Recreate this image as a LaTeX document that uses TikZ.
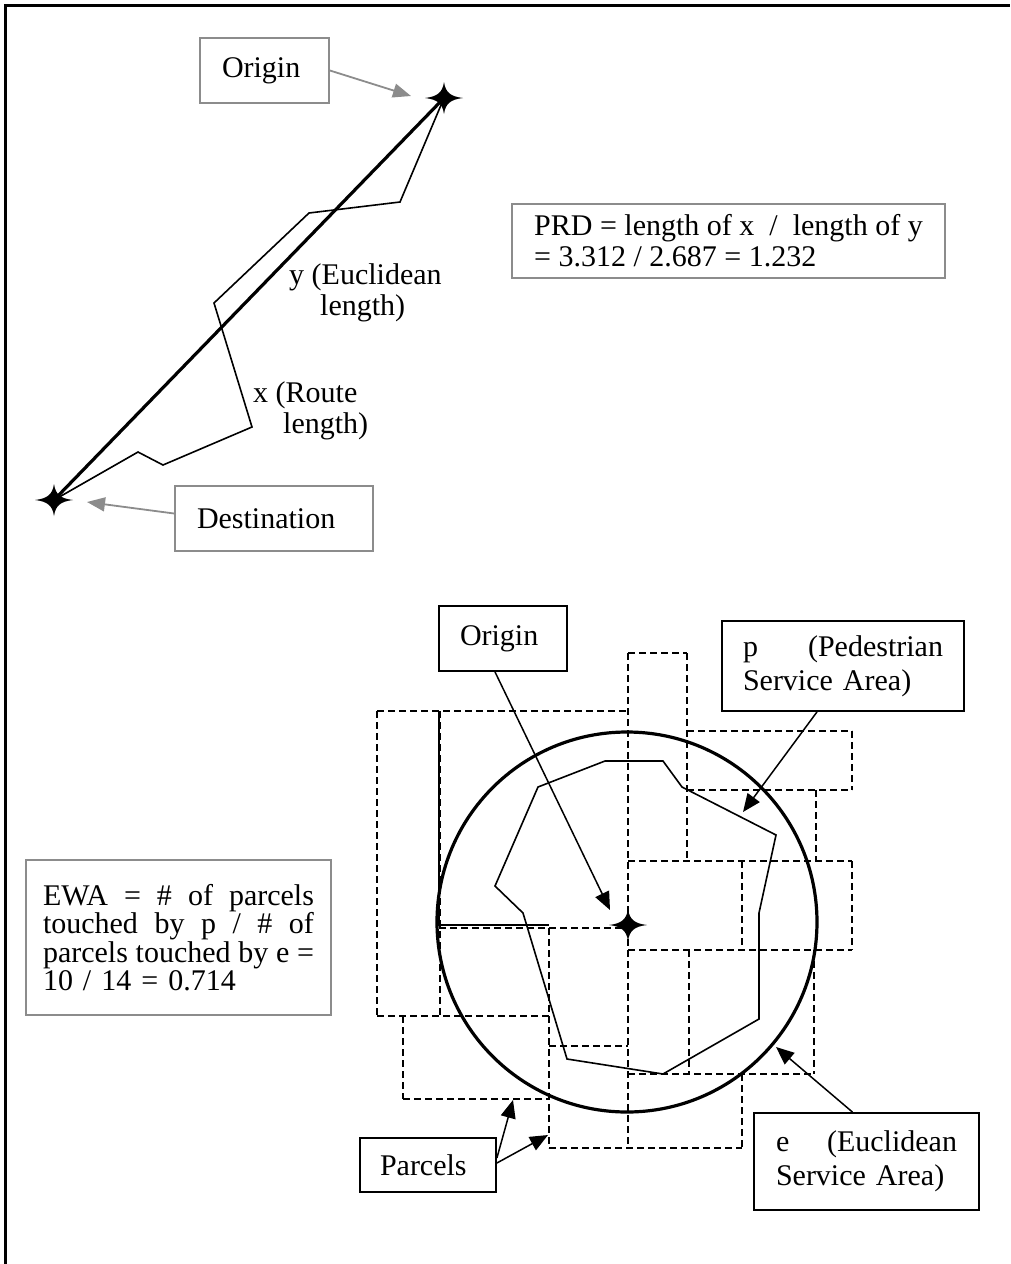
\documentclass[tikz,border=0pt]{standalone}
\usepackage{fontspec}
\setmainfont{Liberation Serif}
\usetikzlibrary{arrows.meta}
\definecolor{boxgray}{RGB}{140,140,140}
\newcommand{\fullline}[1]{\makebox[\hsize][l]{#1}}
\begin{document}
\begin{tikzpicture}[x=1pt,y=-1pt,
  txt/.style={font=\fontsize{30}{31}\selectfont},
  graybox/.style={txt, draw=boxgray, fill=white, line width=1.8pt, align=left, inner ysep=0pt},
  blackbox/.style={txt, draw=black, fill=white, line width=1.8pt, align=left, inner ysep=0pt},
  grayarrow/.style={draw=boxgray, line width=1.8pt, -{Triangle[length=18pt,width=14pt]}},
  blackarrow/.style={draw=black, line width=1.5pt, -{Triangle[length=18pt,width=15pt]}},
  parcel/.style={draw=black, line width=1.5pt, dash pattern=on 7pt off 4pt},
  route/.style={draw=black, line width=1.6pt},
  euclid/.style={draw=black, line width=3.2pt},
  mystar/.pic={\fill (-19,0) .. controls (-6,-1.5) and (-1.5,-6) .. (0,-16) .. controls (1.5,-6) and (6,-1.5) .. (19,0) .. controls (6,1.5) and (1.5,6) .. (0,16) .. controls (-1.5,6) and (-6,1.5) .. (-19,0) -- cycle;}
]
\useasboundingbox (0,0) rectangle (1010,1264);
% frame
\draw[line width=3pt] (5.5,1264) -- (5.5,5.5) -- (1010,5.5);

% ---------- upper diagram ----------
\coordinate (O1) at (444,98);
\coordinate (D1) at (54,500);
\draw[euclid] (O1) -- (D1);
\draw[route] (O1) -- (400,202) -- (309,213) -- (214,303) -- (252,427) -- (163,465) -- (138,452) -- (D1);
\pic at (O1) {mystar};
\pic at (D1) {mystar};

\node[graybox, minimum width=129pt, minimum height=65pt, text width=85pt, inner xsep=22pt] (org1) at (264.5,70.5) {Origin};
\node[graybox, minimum width=198pt, minimum height=65pt, text width=154pt, inner xsep=22pt] (dest) at (274,518.5) {Destination};
\node[graybox, minimum width=433pt, minimum height=74pt, inner xsep=0pt] (prd) at (728.5,241) {PRD = length of x \ / \ length of y\\= 3.312 / 2.687 = 1.232};

\coordinate (tO1) at (411,96);
\coordinate (tD1) at (87,502);
\draw[grayarrow] (org1.east) -- (tO1);
\draw[grayarrow] ([yshift=5pt]dest.west) -- (tD1);

\node[txt, align=left, inner sep=0pt, anchor=west] (ylab) at (289,293) {y (Euclidean\\\hspace*{31pt}length)};
\node[txt, align=left, inner sep=0pt, anchor=west] (xlab) at (253,411) {x (Route\\\hspace*{30pt}length)};

% ---------- lower diagram: parcels ----------
% horizontal edges
\draw[parcel] (628,653) -- (687,653);
\draw[parcel] (377,711) -- (628,711);
\draw[parcel] (687,731) -- (852,731);
\draw[parcel] (687,790) -- (852,790);
\draw[parcel] (628,861) -- (852,861);
\draw[parcel] (439,928) -- (628,928);
\draw[parcel] (628,950) -- (852,950);
\draw[parcel] (377,1016) -- (549,1016);
\draw[parcel] (549,1046) -- (628,1046);
\draw[parcel] (628,1074) -- (814,1074);
\draw[parcel] (403,1099) -- (549,1099);
\draw[parcel] (549,1148) -- (742,1148);
% vertical edges
\draw[parcel] (377,711) -- (377,1016);
\draw[parcel] (403,1016) -- (403,1099);
\draw[parcel] (440,711) -- (440,1016);
\draw[parcel] (549,928) -- (549,1148);
\draw[parcel] (628,653) -- (628,1148);
\draw[parcel] (687,653) -- (687,861);
\draw[parcel] (689,950) -- (689,1074);
\draw[parcel] (742,861) -- (742,950);
\draw[parcel] (742,1074) -- (742,1148);
\draw[parcel] (816,790) -- (816,861);
\draw[parcel] (814,950) -- (814,1074);
\draw[parcel] (852,731) -- (852,790);
\draw[parcel] (852,861) -- (852,950);
% solid parcel edges
\draw[route, line width=1.4pt] (439,711) -- (439,925) -- (549,925);

\coordinate (C) at (627,922);
\draw[euclid] (C) circle[radius=190pt];
\draw[route] (538,787) -- (605,761) -- (663,761) -- (682,787) -- (776,835) -- (759,913) -- (759,1019) -- (663,1074) -- (567,1059) -- (523,913) -- (495,886) -- cycle;
\coordinate (O2) at (628,925);
\pic at (O2) {mystar};

\node[blackbox, minimum width=128pt, minimum height=65pt, text width=86pt, inner xsep=21pt] (org2) at (503,638.5) {Origin};
\node[blackbox, font=\fontsize{30}{34}\selectfont, minimum width=242pt, minimum height=90pt, text width=200pt, inner xsep=21pt] (pbox) at (843,666) {\fullline{p\hfill(Pedestrian}\\Service Area)};
\node[blackbox, font=\fontsize{30}{34}\selectfont, minimum width=225pt, minimum height=97pt, text width=181pt, inner xsep=22pt] (ebox) at (866.5,1161.5) {\fullline{e\hfill(Euclidean}\\Service Area)};
\node[blackbox, minimum width=136pt, minimum height=54pt, text width=96pt, inner xsep=20pt] (parcels) at (428,1165) {Parcels};
\node[graybox, font=\fontsize{30}{28.5}\selectfont, minimum width=305pt, minimum height=155pt, text width=271pt, inner xsep=17pt] (ewa) at (178.5,937.5) {\fullline{EWA\hfill=\hfill\#\hfill of\hfill parcels}\\\fullline{touched\hfill by\hfill p\hfill/\hfill\#\hfill of}\\\fullline{parcels\hfill touched\hfill by\hfill e\hfill=}\\10 / 14 = 0.714};

\coordinate (tO2) at (610,910);
\coordinate (tP) at (743,812);
\coordinate (tE) at (776,1047);
\coordinate (tPa1) at (513,1100);
\coordinate (tPa2) at (548,1135);
\draw[blackarrow] ([xshift=-8pt]org2.south) -- (tO2);
\draw[blackarrow] ([xshift=-26pt]pbox.south) -- (tP);
\draw[blackarrow] ([xshift=-14pt]ebox.north) -- (tE);
\draw[blackarrow] ([yshift=7pt]parcels.east) -- (tPa1);
\draw[blackarrow] ([yshift=2pt]parcels.east) -- (tPa2);
\end{tikzpicture}
\end{document}
